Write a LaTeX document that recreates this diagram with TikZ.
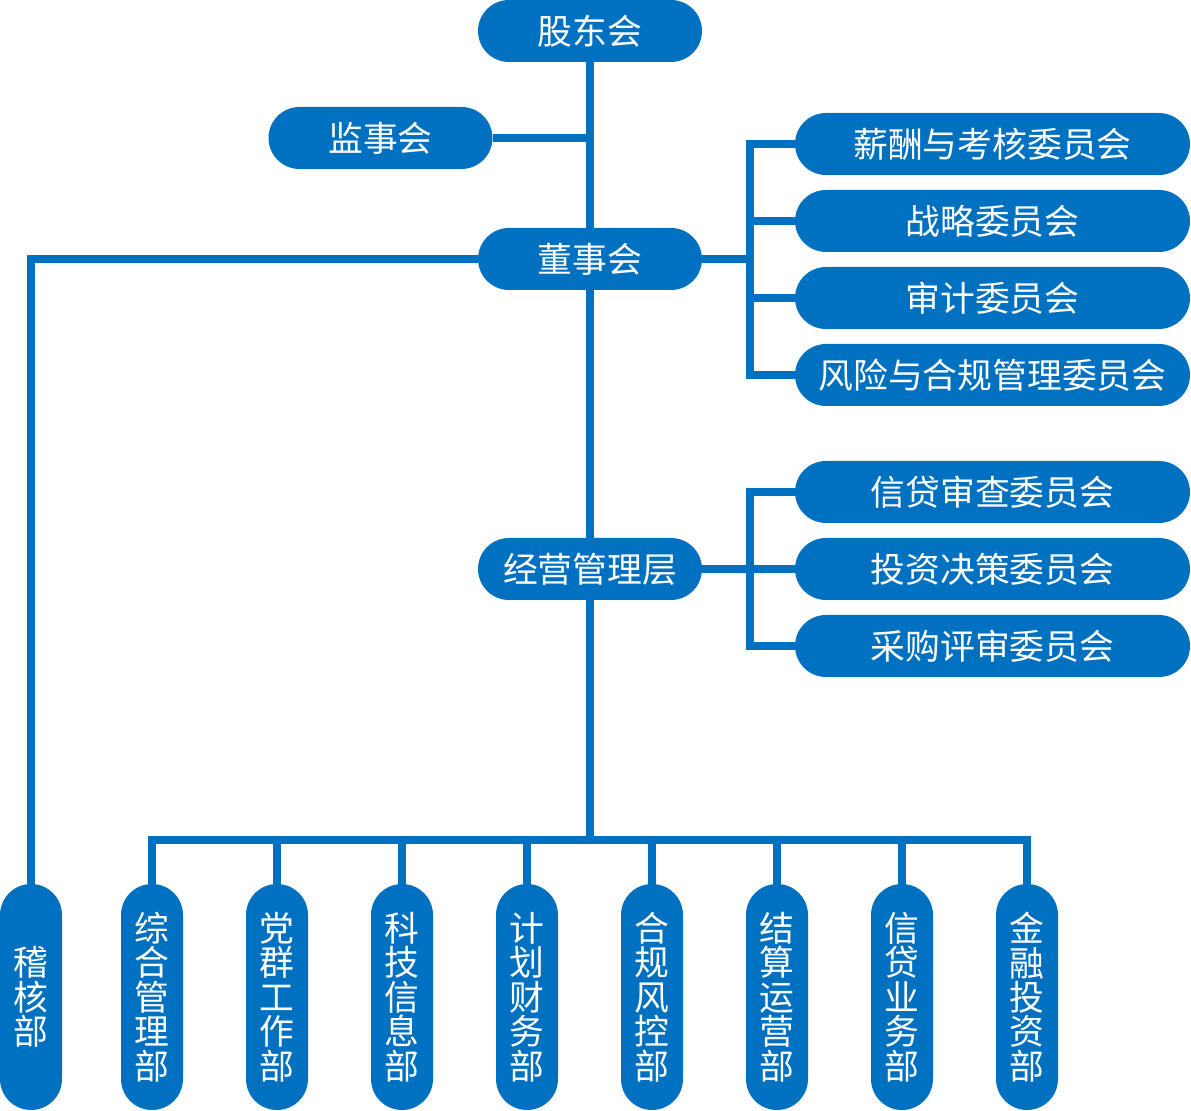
\documentclass[tikz,border=0pt]{standalone}
\usepackage{fontspec}
\setmainfont{Noto Sans CJK SC}
\definecolor{orgblue}{RGB}{0,112,192}
\begin{document}
\begin{tikzpicture}[x=0.5pt, y=-0.5pt,
  every node/.style = {shape=rectangle, rounded corners=15.5pt,
    fill=orgblue, text=white, inner sep=0pt, align=center,
    font=\fontsize{17.4pt}{17.2pt}\selectfont},
  pill/.style = {minimum width=112pt, minimum height=31pt},
  wide/.style = {minimum width=197.5pt, minimum height=31pt},
  tall/.style = {minimum width=31pt, minimum height=113pt},
  link/.style = {draw=orgblue, line width=4pt}]
  \useasboundingbox (0,0) rectangle (1191,1111);
  % top levels
  \node[pill] (gdh) at (590,31) {股东会};
  \node[pill] (jsh) at (380.5,138) {监事会};
  \node[pill] (dsh) at (590,259) {董事会};
  \node[pill] (jyc) at (590,569) {经营管理层};
  % committees
  \node[wide] (wy1) at (992.5,144) {薪酬与考核委员会};
  \node[wide] (wy2) at (992.5,221) {战略委员会};
  \node[wide] (wy3) at (992.5,298) {审计委员会};
  \node[wide] (wy4) at (992.5,375) {风险与合规管理委员会};
  \node[wide] (wy5) at (992.5,492) {信贷审查委员会};
  \node[wide] (wy6) at (992.5,569) {投资决策委员会};
  \node[wide] (wy7) at (992.5,646) {采购评审委员会};
  % departments
  \node[tall] (bm0) at (31,997) {稽\\核\\部};
  \node[tall] (bm1) at (152,997) {综\\合\\管\\理\\部};
  \node[tall] (bm2) at (277,997) {党\\群\\工\\作\\部};
  \node[tall] (bm3) at (402,997) {科\\技\\信\\息\\部};
  \node[tall] (bm4) at (527,997) {计\\划\\财\\务\\部};
  \node[tall] (bm5) at (652,997) {合\\规\\风\\控\\部};
  \node[tall] (bm6) at (777,997) {结\\算\\运\\营\\部};
  \node[tall] (bm7) at (902,997) {信\\贷\\业\\务\\部};
  \node[tall] (bm8) at (1027,997) {金\\融\\投\\资\\部};
  \coordinate (fork1) at (749.5,259);
  \coordinate (fork2) at (749.5,569);
  \coordinate (bus) at (590,840);
  % connectors
  \draw[link] (gdh.south) -- (dsh.north);
  \draw[link] (jsh.east) -- (jsh.east -| gdh.south);
  \draw[link] (dsh.south) -- (jyc.north);
  \draw[link] (jyc.south) -- (bus);
  \draw[link] (dsh.west) -| (bm0.north);
  \draw[link] (dsh.east) -- (fork1);
  \draw[link] (jyc.east) -- (fork2);
  \foreach \n in {wy1,wy2,wy3,wy4}
    \draw[link] (fork1) |- (\n.west);
  \foreach \n in {wy5,wy6,wy7}
    \draw[link] (fork2) |- (\n.west);
  \foreach \n in {bm1,bm2,bm3,bm4,bm5,bm6,bm7,bm8}
    \draw[link] (bus) -| (\n.north);
\end{tikzpicture}
\end{document}
